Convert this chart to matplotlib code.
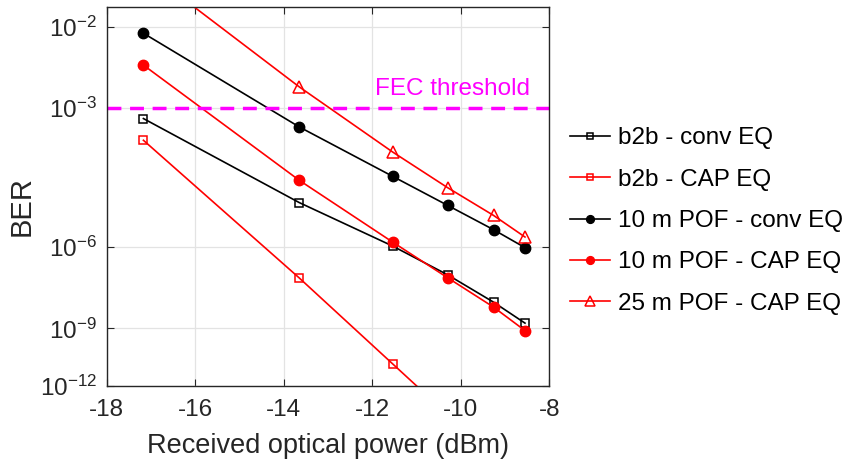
import numpy as np
import matplotlib
matplotlib.use("Agg")
import matplotlib.pyplot as plt
from matplotlib.ticker import FixedLocator, FuncFormatter

plt.rcParams['font.family'] = ['Liberation Sans', 'DejaVu Sans']
plt.rcParams['mathtext.fontset'] = 'custom'
plt.rcParams['mathtext.rm'] = 'Liberation Sans'
plt.rcParams['mathtext.it'] = 'Liberation Sans'

# received optical power (dBm)
power = [-17.17, -13.65, -11.54, -10.30, -9.26, -8.55]

# BER values
b2b_conv = [6.9e-4, 1.56e-5, 1.07e-6, 1.29e-7, 1.26e-8, 1.7e-9]
b2b_cap = [3.0e-4, 1.0e-7, 1.8e-11, 1.5e-14]
pof10_conv = [8.6e-3, 5.06e-4, 6.07e-5, 1.34e-5, 3.14e-6, 9.6e-7]
pof10_cap = [3.79e-3, 5.0e-5, 1.40e-6, 1.02e-7, 8.0e-9, 7.9e-10]
pof25_cap = [3.2e-2, 2.0e-3, 1.84e-4, 3.46e-5, 7.5e-6, 1.96e-6]

fec_threshold = 1e-3
yticks = [1e-12, 1e-9, 1e-6, 1e-3, 1e-2]
xticks = [-18, -16, -14, -12, -10, -8]


def fwd(b):
    b = np.clip(np.asarray(b, dtype=float), 1e-300, 1 - 1e-12)
    return -np.log10(-np.log10(b))


def inv(v):
    return 10.0 ** (-(10.0 ** (-np.asarray(v, dtype=float))))


fig = plt.figure(figsize=(8.48, 4.63), dpi=100)
ax = fig.add_axes([0.1258, 0.1663, 0.522, 0.8192])
ax.set_yscale('function', functions=(fwd, inv))

lw = 1.2
ax.plot(power, b2b_conv, '-s', color='k', lw=lw, ms=6, mfc='none', mew=1.1, label='b2b - conv EQ')
ax.plot(power[:len(b2b_cap)], b2b_cap, '-s', color='r', lw=lw, ms=6, mfc='none', mew=1.1, label='b2b - CAP EQ')
ax.plot(power, pof10_conv, '-o', color='k', lw=lw, ms=7.5, label='10 m POF - conv EQ')
ax.plot(power, pof10_cap, '-o', color='r', lw=lw, ms=7.5, label='10 m POF - CAP EQ')
ax.plot(power, pof25_cap, '-^', color='r', lw=lw, ms=9, mfc='none', mew=1.1, label='25 m POF - CAP EQ')

ax.axhline(fec_threshold, color='#ff00ff', lw=2.5, ls=(0, (4, 2.5)))
ax.text(-11.93, 1.85e-3, 'FEC threshold', color='#ff00ff', fontsize=17.5, va='center', ha='left')

ax.set_xlim(-18, -8)
ax.set_ylim(1e-12, 0.0155)
ax.xaxis.set_major_locator(FixedLocator(xticks))
ax.yaxis.set_major_locator(FixedLocator(yticks))
ax.yaxis.set_minor_locator(FixedLocator([]))
ax.yaxis.set_major_formatter(FuncFormatter(lambda v, p: r'$10^{%d}$' % round(np.log10(v))))
ax.xaxis.set_major_formatter(FuncFormatter(lambda v, p: '%d' % v))

ax.grid(True, color='#e3e3e3', lw=0.9)
ax.set_axisbelow(True)
ax.tick_params(direction='in', top=True, right=True, labelsize=17.5, length=5,
               color='#262626', labelcolor='#262626')
ax.tick_params(axis='x', pad=9)
ax.tick_params(axis='y', pad=7)
for s in ax.spines.values():
    s.set_color('#262626')
    s.set_linewidth(1.0)

ax.set_xlabel('Received optical power (dBm)', fontsize=19.5, color='#262626', labelpad=9)
ax.set_ylabel('BER', fontsize=21, color='#262626')
ax.yaxis.set_label_coords(-0.16, 0.474)

ax.legend(loc='center left', bbox_to_anchor=(1.025, 0.435), frameon=False, fontsize=17.5,
          handlelength=1.65, handletextpad=0.3, labelspacing=0.8, borderaxespad=0,
          markerscale=0.75)

fig.savefig('out.png', dpi=100)
